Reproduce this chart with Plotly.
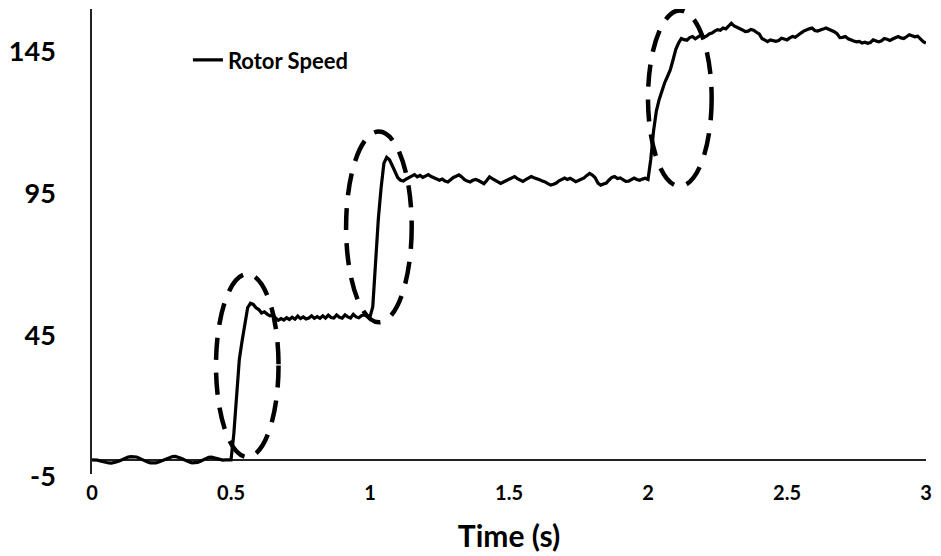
import plotly.graph_objects as go

# ---- data (rotor speed vs time, 0.01 s sampling) ----
time_s = [round(i * 0.01, 2) for i in range(301)]

speed_0_050 = [
    0.0, 0.0, -0.1, -0.4, -0.7, -1.0, -1.1, -1.15, -1.0, -0.7,
    -0.3, 0.2, 0.6, 0.95, 1.15, 1.2, 1.0, 0.6, 0.1, -0.4,
    -0.8, -1.05, -1.15, -1.1, -0.8, -0.4, 0.1, 0.6, 0.95, 1.15,
    1.2, 1.0, 0.6, 0.1, -0.4, -0.8, -1.05, -1.1, -0.9, -0.5,
    0.0, 0.5, 0.85, 0.95, 0.7, 0.3, 0.0, -0.1, 0.0, 0.1,
    0.0,
]
speed_051_100 = [
    9.0, 23.0, 35.5, 42.0, 48.0, 53.7, 55.2, 54.8, 53.6, 53.0,
    51.8, 52.2, 51.4, 50.8, 51.0, 50.2, 49.2, 49.8, 49.3, 50.1,
    49.5, 50.3, 49.6, 50.7, 49.8, 50.4, 49.7, 50.0, 50.8, 49.9,
    50.5, 49.9, 50.8, 50.0, 51.0, 50.2, 50.0, 51.1, 50.3, 50.0,
    51.1, 50.4, 50.0, 51.3, 50.4, 50.1, 50.9, 51.1, 50.6, 50.4,
]
speed_101_200 = [
    54.0, 70.0, 85.0, 96.0, 104.6, 106.7, 105.8, 103.8, 101.8, 99.5,
    98.6, 98.3, 99.0, 99.5, 100.2, 100.6, 99.8, 100.3, 99.6, 100.1,
    100.6, 99.9, 99.5, 99.0, 98.6, 99.0, 98.3, 98.0, 98.8, 99.6,
    100.0, 100.5, 99.8, 98.8, 98.3, 98.0, 98.6, 98.9, 98.5, 97.9,
    97.4, 98.5, 99.8, 99.2, 98.6, 98.2, 97.5, 98.0, 98.5, 98.9,
    99.4, 99.9, 99.2, 98.7, 98.2, 98.8, 99.3, 99.9, 99.5, 99.2,
    98.8, 98.3, 98.0, 97.4, 96.9, 97.2, 97.6, 98.4, 99.0, 99.4,
    98.9, 99.3, 98.7, 98.1, 98.5, 99.0, 99.4, 100.3, 101.0, 100.4,
    99.5, 97.6, 96.9, 97.3, 97.6, 98.7, 99.6, 99.9, 99.2, 99.4,
    98.8, 98.2, 98.3, 98.9, 99.4, 98.9, 98.6, 99.0, 99.3, 98.9,
]
speed_201_300 = [
    106.0, 116.0, 123.0, 127.0, 130.5, 133.0, 135.2, 137.5, 141.0, 144.8,
    147.0, 148.6, 148.2, 148.0, 148.9, 149.3, 148.5, 149.0, 149.8, 149.3,
    149.4, 150.2, 150.5, 151.2, 151.7, 151.5, 152.3, 152.0, 153.2, 154.0,
    153.0, 152.6, 152.3, 151.6, 151.0, 151.2, 151.8, 151.5, 150.8, 150.2,
    148.6, 147.9, 147.5, 148.1, 147.9, 147.6, 147.9, 148.7, 148.4, 148.1,
    148.8, 149.3, 149.0, 149.9, 150.5, 151.2, 151.7, 152.0, 152.3, 151.4,
    151.2, 151.7, 151.9, 152.3, 151.9, 151.7, 151.0, 150.3, 148.9, 149.0,
    149.3, 148.5, 148.0, 147.7, 147.4, 147.6, 147.0, 147.3, 146.9, 147.2,
    148.1, 147.8, 147.4, 147.8, 148.6, 148.3, 147.9, 148.4, 149.0, 149.3,
    148.8, 148.6, 149.2, 149.9, 149.6, 149.2, 149.4, 148.3, 147.5, 147.0,
]
rotor_speed = speed_0_050 + speed_051_100 + speed_101_200 + speed_201_300

x_tick_vals = [0, 0.5, 1, 1.5, 2, 2.5, 3]
x_tick_text = ["0", "0.5", "1", "1.5", "2", "2.5", "3"]
y_tick_vals = [-5, 45, 95, 145]
y_tick_text = ["-5", "45", "95", "145"]

# dashed ellipses highlighting the transients: (t0, t1, v0, v1)
ellipse_t0 = [0.446, 0.914, 2.000]
ellipse_t1 = [0.671, 1.150, 2.229]
ellipse_v0 = [1.0, 48.5, 96.5]
ellipse_v1 = [65.5, 115.8, 158.5]

FONT = "Lato"

fig = go.Figure()
fig.add_trace(go.Scatter(
    x=time_s, y=rotor_speed, mode="lines", name="Rotor Speed",
    line=dict(color="black", width=3.2),
))

for a, b, c, d in zip(ellipse_t0, ellipse_t1, ellipse_v0, ellipse_v1):
    fig.add_shape(type="circle", xref="x", yref="y", x0=a, x1=b, y0=c, y1=d,
                  line=dict(color="black", width=4.5, dash="22px,13px"))

fig.update_layout(
    width=941, height=556,
    margin=dict(l=91, r=10, t=9, b=82),
    paper_bgcolor="white", plot_bgcolor="white",
    font=dict(family=FONT, color="black"),
    showlegend=True,
    legend=dict(x=0.115, y=0.89, xanchor="left", yanchor="middle",
                bgcolor="rgba(0,0,0,0)",
                font=dict(family=FONT, size=22, weight="bold", color="black")),
    xaxis=dict(range=[0, 3], showgrid=False, zeroline=False, showline=False,
               tickvals=x_tick_vals, ticktext=x_tick_text, ticks="",
               ticklabelstandoff=5,
               tickfont=dict(family=FONT, size=20, weight="bold", color="black"),
               title=dict(text="Time (s)", standoff=22,
                          font=dict(family=FONT, size=30, weight="bold", color="black"))),
    yaxis=dict(range=[-5, 159], showgrid=False,
               zeroline=True, zerolinecolor="#222", zerolinewidth=1.5,
               showline=True, linecolor="#222", linewidth=1.5,
               tickvals=y_tick_vals, ticktext=y_tick_text, ticks="",
               ticklabelstandoff=29, ticklabelshift=3,
               tickfont=dict(family=FONT, size=27, weight="bold", color="black")),
)

fig.write_html("out.html")
